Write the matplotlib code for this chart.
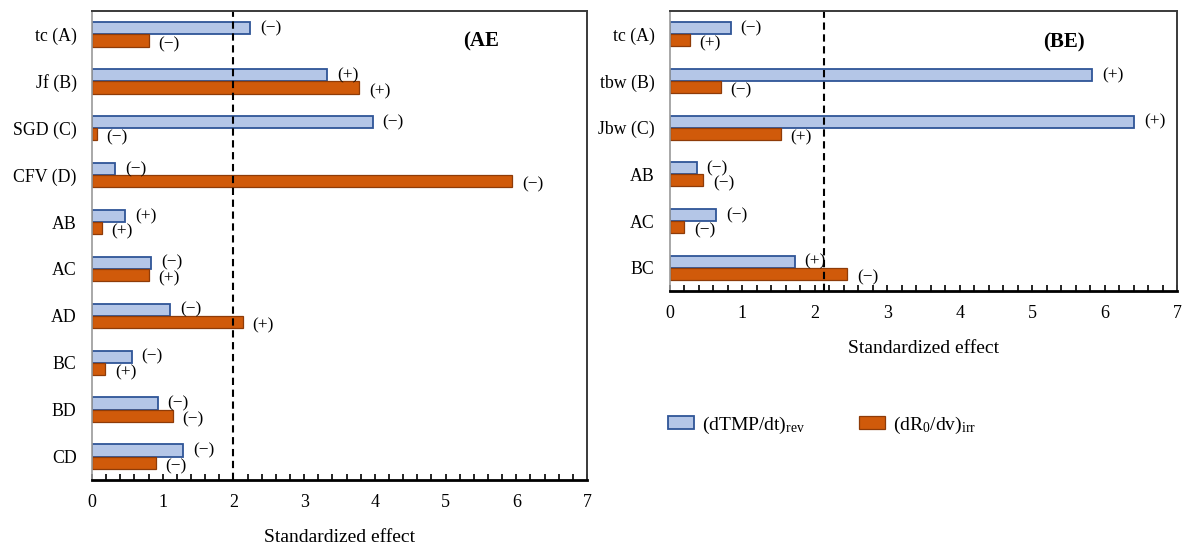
import numpy as np
import matplotlib
matplotlib.use("Agg")
import matplotlib.pyplot as plt
from matplotlib.ticker import MultipleLocator

plt.rcParams["font.family"] = ["Liberation Serif", "DejaVu Serif"]
plt.rcParams["mathtext.fontset"] = "custom"
plt.rcParams["mathtext.rm"] = "Liberation Serif"
plt.rcParams["mathtext.it"] = "Liberation Serif:italic"

# --- data ---
ae_labels = ["tc (A)", "Jf (B)", "SGD (C)", "CFV (D)", "AB", "AC", "AD", "BC", "BD", "CD"]
ae_rev = [2.24, 3.33, 3.97, 0.33, 0.47, 0.84, 1.11, 0.56, 0.93, 1.29]
ae_irr = [0.80, 3.78, 0.07, 5.94, 0.14, 0.80, 2.13, 0.19, 1.14, 0.90]
ae_rev_sign = ["−", "+", "−", "−", "+", "−", "−", "−", "−", "−"]
ae_irr_sign = ["−", "+", "−", "−", "+", "+", "+", "+", "−", "−"]
ae_limit = 2.0

be_labels = ["tc (A)", "tbw (B)", "Jbw (C)", "AB", "AC", "BC"]
be_rev = [0.84, 5.83, 6.41, 0.37, 0.64, 1.72]
be_irr = [0.27, 0.70, 1.53, 0.46, 0.20, 2.45]
be_rev_sign = ["−", "+", "+", "−", "−", "+"]
be_irr_sign = ["+", "−", "+", "−", "−", "−"]
be_limit = 2.13

blue_fill, blue_edge = "#B4C6E7", "#2F5597"
orange_fill, orange_edge = "#D05A0A", "#8E3B08"
h = 0.26

W, H = 1182, 549
fig = plt.figure(figsize=(W / 100, H / 100), dpi=100)
ax1 = fig.add_axes([92 / W, 1 - 480 / H, 495 / W, 469 / H])
ax2 = fig.add_axes([670 / W, 1 - 291 / H, 507 / W, 280 / H])


def draw(ax, labels, rev, irr, rev_sign, irr_sign, limit, title, title_pos):
    y = np.arange(len(labels))
    b1 = ax.barh(y - h / 2, rev, height=h, color=blue_fill, edgecolor=blue_edge,
                 linewidth=1.3, label="(dTMP/dt)$_\\mathregular{rev}$")
    b2 = ax.barh(y + h / 2, irr, height=h, color=orange_fill, edgecolor=orange_edge,
                 linewidth=0.9, label="(dR$_\\mathregular{0}$/dv)$_\\mathregular{irr}$")
    # sign of each effect next to its bar
    for yi, v, s in zip(y, rev, rev_sign):
        ax.annotate(f"({s})", (v, yi - h / 2), xytext=(7, 0), textcoords="offset points",
                    ha="left", va="center", fontsize=12.5)
    for yi, v, s in zip(y, irr, irr_sign):
        ax.annotate(f"({s})", (v, yi + h / 2), xytext=(7, -2.5), textcoords="offset points",
                    ha="left", va="center", fontsize=12.5)
    ax.axvline(limit, color="black", lw=1.5, linestyle=(0, (3.5, 2.2)))
    ax.set_xlim(0, 7)
    ax.set_ylim(len(labels) - 0.5, -0.5)
    ax.set_yticks(y)
    ax.set_yticklabels(labels, fontsize=12.8)
    ax.tick_params(axis="y", length=0, pad=11)
    ax.xaxis.set_major_locator(MultipleLocator(1))
    ax.xaxis.set_minor_locator(MultipleLocator(0.2))
    ax.tick_params(axis="x", which="both", direction="in", length=4, width=1.2,
                   labelsize=13, pad=10)
    ax.set_xlabel("Standardized effect", fontsize=14, labelpad=13)
    ax.spines["left"].set_color("#9A9A9A")
    ax.spines["left"].set_linewidth(1.2)
    ax.spines["bottom"].set_color("black")
    ax.spines["bottom"].set_linewidth(2)
    for side in ["top", "right"]:
        ax.spines[side].set_color("#3A3A3A")
        ax.spines[side].set_linewidth(1.4)
    ax.text(*title_pos, title, transform=ax.transAxes,
            ha="center", va="center", fontsize=15, fontweight="bold")
    return b1, b2


draw(ax1, ae_labels, ae_rev, ae_irr, ae_rev_sign, ae_irr_sign, ae_limit, "(AE", (0.785, 0.936))
b1, b2 = draw(ax2, be_labels, be_rev, be_irr, be_rev_sign, be_irr_sign, be_limit, "(BE)",
              (0.777, 0.887))

fig.legend([b1, b2], [b1.get_label(), b2.get_label()], loc="center left",
           bbox_to_anchor=(668 / W, 1 - 425 / H), ncol=2, frameon=False,
           fontsize=14, handlelength=1.34, handleheight=0.67, handletextpad=0.42,
           columnspacing=2.75, borderpad=0, borderaxespad=0)

fig.savefig("out.png", dpi=100)
